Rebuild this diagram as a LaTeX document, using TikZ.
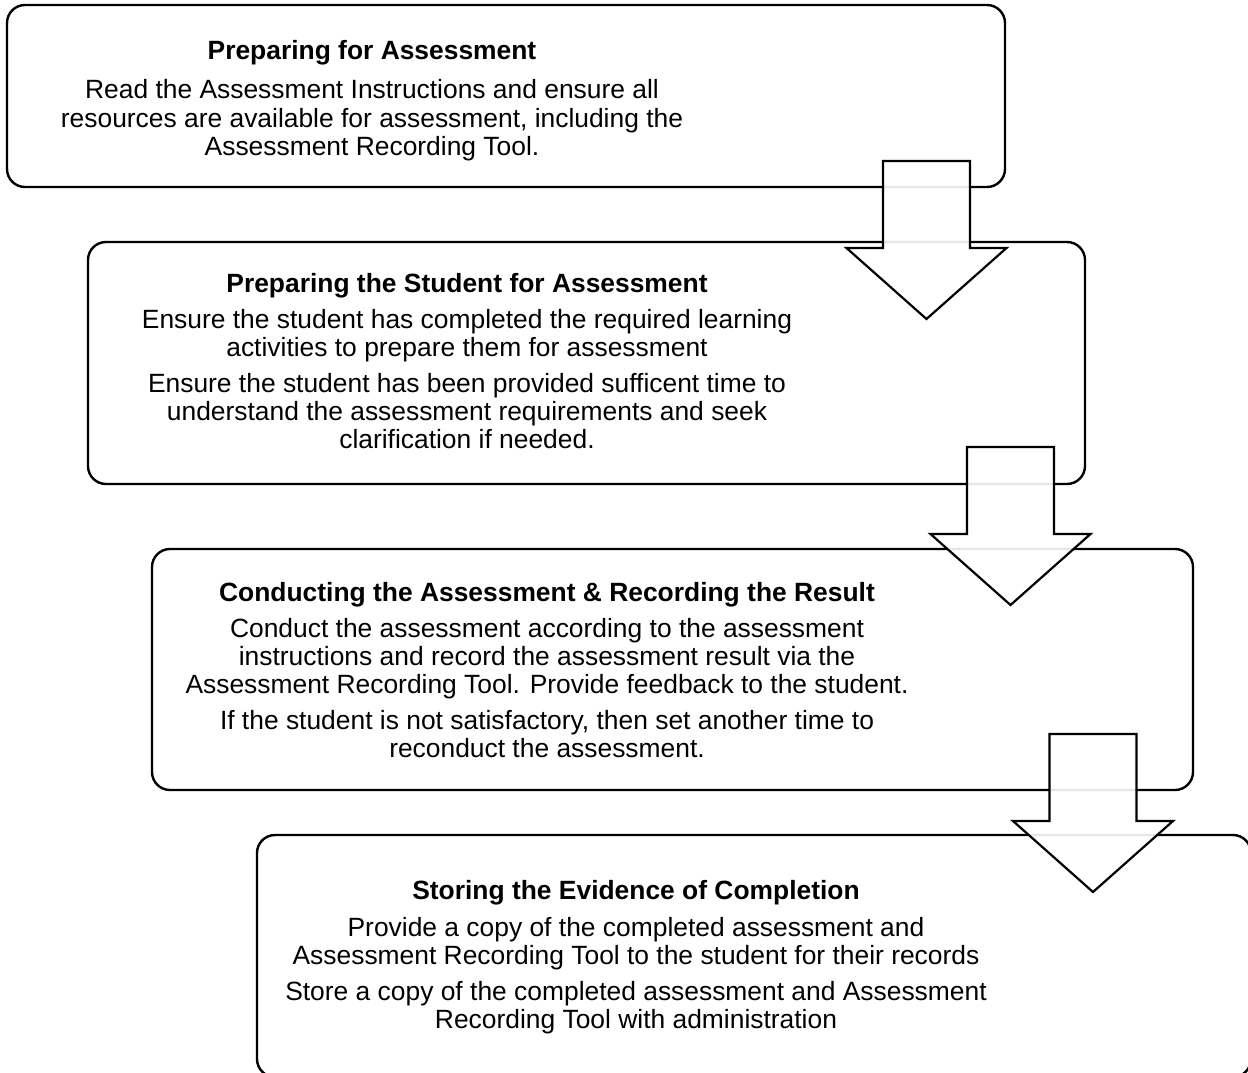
\documentclass[tikz,border=0pt]{standalone}
\usepackage{fontspec}
\setmainfont{Liberation Sans}
\usetikzlibrary{positioning}
\tikzset{
    stage/.style={rectangle,draw,line width=2.4pt,rounded corners=18pt,minimum width=998pt,minimum height=242pt,inner sep=0pt},
    stagetext/.style={align=center,font=\fontsize{26.4}{27.8}\selectfont,inner sep=0pt},
    blockarrow/.style={draw,line width=2.2pt,fill=white,fill opacity=0.9,line join=miter}
}

\begin{document}
\begin{tikzpicture}[x=1pt,y=-1pt]

                \useasboundingbox (0,0) rectangle (1248,1073);

                % the four stages
                \node[stage, minimum height=182pt]               (prep box)    at (506,96)      {};
                \node[stage, minimum width=997pt]                (student box) at (586.5,363)   {};
                \node[stage, minimum width=1041pt, minimum height=241pt] (conduct box) at (672.5,669.5) {};
                \node[stage, minimum width=994pt]                (store box)   at (754,956)     {};

                % block arrows between the stages
                \foreach \ax/\ay in {926.5/161, 1010.5/447, 1093/734}
                    \draw[blockarrow] (\ax,\ay) -- ++(43.5,0) -- ++(0,87) -- ++(36.5,0)
                        -- ++(-80,71) -- ++(-80,-71) -- ++(36.5,0) -- ++(0,-87) -- cycle;

                % texts
                \node[stagetext] (prep text) at (372,101)
                    {\textbf{Preparing for Assessment}\\[11pt]
                     Read the Assessment Instructions and ensure all\\[0.8pt]
                     resources are available for assessment, including the\\[0.8pt]
                     Assessment Recording Tool.};

                \node[stagetext] (student text) at (467,361)
                    {\textbf{Preparing the Student for Assessment}\\[8pt]
                     Ensure the student has completed the required learning\\
                     activities to prepare them for assessment\\[8.5pt]
                     Ensure the student has been provided sufficent time to\\
                     understand the assessment requirements and seek\\
                     clarification if needed.};

                \node[stagetext] (conduct text) at (547,670)
                    {\textbf{Conducting the Assessment \& Recording the Result}\\[8pt]
                     Conduct the assessment according to the assessment\\
                     instructions and record the assessment result via the\\
                     Assessment Recording Tool. Provide feedback to the student.\\[8.5pt]
                     If the student is not satisfactory, then set another time to\\
                     reconduct the assessment.};

                \node[stagetext] (store text) at (636,957)
                    {\textbf{Storing the Evidence of Completion}\\[9pt]
                     Provide a copy of the completed assessment and\\
                     Assessment Recording Tool to the student for their records\\[8.5pt]
                     Store a copy of the completed assessment and Assessment\\
                     Recording Tool with administration};

\end{tikzpicture}
\end{document}
